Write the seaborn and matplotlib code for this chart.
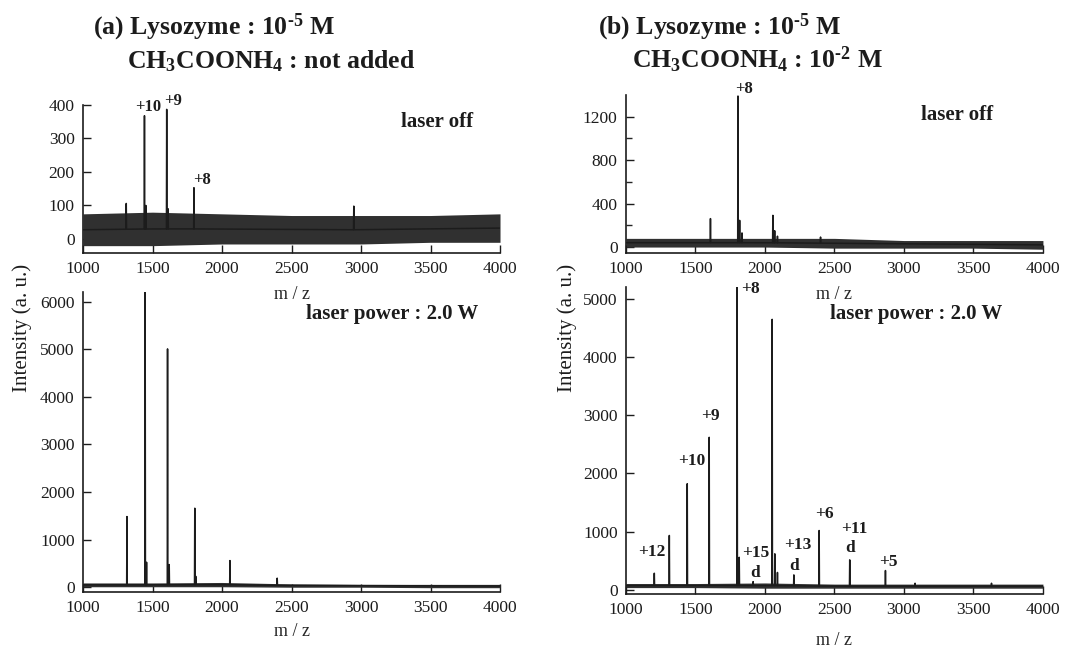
import numpy as np
import pandas as pd
import matplotlib
matplotlib.use('Agg')
import matplotlib.pyplot as plt
import seaborn as sns

sns.set_style('ticks')
plt.rcParams['font.family'] = ['Liberation Serif', 'DejaVu Serif']
plt.rcParams['mathtext.fontset'] = 'custom'
plt.rcParams['mathtext.rm'] = 'Liberation Serif:bold'
plt.rcParams['mathtext.it'] = 'Liberation Serif:bold'
plt.rcParams['mathtext.bf'] = 'Liberation Serif:bold'

noise_mz = [1000, 1500, 2000, 2500, 3000, 3500, 4000]

# (a) laser off
a_off_mz = [1311, 1442, 1452, 1602, 1612, 1798, 2948]
a_off_int = [106, 368, 100, 387, 90, 153, 98]
a_off_lo = [-20, -20, -15, -15, -15, -10, -10]
a_off_hi = [75, 80, 75, 70, 70, 70, 75]
a_off_lab = ['+10', '+9', '+8']
a_off_lab_mz = [1471, 1650, 1853]
a_off_lab_y = [393, 413, 176]

# (a) laser power 2.0 W
a_on_mz = [1316, 1447, 1457, 1608, 1620, 1804, 1811, 2057, 2397]
a_on_int = [1485, 6200, 525, 5007, 476, 1660, 230, 560, 190]
a_on_lo = [10, 10, 10, 0, 0, -10, -10]
a_on_hi = [90, 90, 100, 70, 60, 60, 60]

# (b) laser off
b_off_mz = [1608, 1806, 1818, 1835, 2057, 2070, 2090, 2400]
b_off_int = [262, 1391, 246, 130, 292, 150, 100, 92]
b_off_lo = [0, 0, 0, -10, -10, -10, -20]
b_off_hi = [80, 80, 80, 80, 60, 60, 60]
b_off_lab = ['+8']
b_off_lab_mz = [1847]
b_off_lab_y = [1452]

# (b) laser power 2.0 W
b_on_mz = [1204, 1312, 1441, 1599, 1800, 1815, 1915, 2052, 2071, 2090,
           2208, 2390, 2610, 2867, 3080, 3630]
b_on_int = [287, 935, 1823, 2620, 5250, 560, 143, 4645, 620, 300,
            258, 1020, 516, 333, 115, 115]
b_on_lo = [40, 40, 30, 30, 30, 30, 30]
b_on_hi = [110, 110, 120, 100, 100, 100, 100]
b_on_lab = ['+12', '+10', '+9', '+8', '+15', 'd', '+13', 'd', '+6', '+11', 'd', '+5']
b_on_lab_mz = [1185, 1472, 1609, 1899, 1935, 1927, 2239, 2208, 2426, 2646, 2610, 2886]
b_on_lab_y = [659, 2219, 2993, 5161, 631, 298, 774, 413, 1302, 1044, 717, 487]

ink = '#1c1c1c'


def spectrum(mz, inten, lo, hi):
    base = (np.array(lo) + np.array(hi)) / 2
    xs = [1000]
    ys = [base[0]]
    for m, h in sorted(zip(mz, inten)):
        b = np.interp(m, noise_mz, base)
        xs += [m - 2, m, m + 2]
        ys += [b, h, b]
    xs.append(4000)
    ys.append(base[-1])
    return pd.DataFrame({'mz': xs, 'intensity': ys})


def panel(ax, mz, inten, lo, hi, ylim, yticks, minor=None):
    ax.patch.set_alpha(0)
    ax.fill_between(noise_mz, lo, hi, color='#303030', lw=0)
    df = spectrum(mz, inten, lo, hi)
    sns.lineplot(data=df, x='mz', y='intensity', ax=ax, color=ink, lw=1.1,
                 estimator=None, sort=False)
    ax.set_xlim(1000, 4000)
    ax.set_ylim(*ylim)
    ax.set_xticks([1000, 1500, 2000, 2500, 3000, 3500, 4000])
    ax.set_yticks(yticks)
    ax.set_yticklabels([str(v) for v in yticks])
    if minor is not None:
        ax.set_yticks(minor, minor=True)
    ax.tick_params(direction='in', length=6, width=1, labelsize=12.5,
                   pad=6, colors=ink)
    ax.tick_params(which='minor', direction='in', length=4, width=1)
    for s in ['top', 'right']:
        ax.spines[s].set_visible(False)
    for s in ['left', 'bottom']:
        ax.spines[s].set_linewidth(1.2)
        ax.spines[s].set_color(ink)
    ax.set_ylabel('')


def labels(ax, texts, xs, ys, size=12):
    for t, x, y in zip(texts, xs, ys):
        ax.text(x, y, t, ha='center', va='center', fontsize=size,
                fontweight='bold', color=ink, clip_on=False)


fig = plt.figure(figsize=(10.7, 6.55), dpi=100)
ax1 = fig.add_axes([0.0776, 0.6137, 0.3897, 0.2260])
ax2 = fig.add_axes([0.0776, 0.0962, 0.3897, 0.4578])
ax3 = fig.add_axes([0.585, 0.6137, 0.3897, 0.2412])
ax4 = fig.add_axes([0.585, 0.0931, 0.3897, 0.4687])

panel(ax1, a_off_mz, a_off_int, a_off_lo, a_off_hi, (-42, 400),
      [0, 100, 200, 300, 400])
panel(ax2, a_on_mz, a_on_int, a_on_lo, a_on_hi, (-100, 6200),
      [0, 1000, 2000, 3000, 4000, 5000, 6000])
panel(ax3, b_off_mz, b_off_int, b_off_lo, b_off_hi, (-55, 1400),
      [0, 400, 800, 1200], minor=[200, 600, 1000])
panel(ax4, b_on_mz, b_on_int, b_on_lo, b_on_hi, (-70, 5200),
      [0, 1000, 2000, 3000, 4000, 5000])

labels(ax1, a_off_lab, a_off_lab_mz, a_off_lab_y)
labels(ax3, b_off_lab, b_off_lab_mz, b_off_lab_y)
labels(ax4, b_on_lab, b_on_lab_mz, b_on_lab_y, size=12.5)

ax1.set_xlabel('m / z', fontsize=13, labelpad=6)
ax2.set_xlabel('m / z', fontsize=13, labelpad=5)
ax3.set_xlabel('m / z', fontsize=13, labelpad=6)
ax4.set_xlabel('m / z', fontsize=13, labelpad=10)

ax1.text(0.849, 0.885, 'laser off', transform=ax1.transAxes, ha='center',
         va='center', fontsize=15, fontweight='bold', color=ink)
ax3.text(0.794, 0.873, 'laser off', transform=ax3.transAxes, ha='center',
         va='center', fontsize=15, fontweight='bold', color=ink)
ax2.text(0.741, 0.927, 'laser power : 2.0 W', transform=ax2.transAxes,
         ha='center', va='center', fontsize=15, fontweight='bold', color=ink)
ax4.text(0.695, 0.912, 'laser power : 2.0 W', transform=ax4.transAxes,
         ha='center', va='center', fontsize=15, fontweight='bold', color=ink)

fig.text(0.021, 0.499, 'Intensity (a. u.)', rotation=90, ha='center',
         va='center', fontsize=15, color=ink)
fig.text(0.530, 0.499, 'Intensity (a. u.)', rotation=90, ha='center',
         va='center', fontsize=15, color=ink)

fig.text(0.0869, 0.9466, r'(a) Lysozyme : 10$^{\text{-}5}$ M', fontsize=18.5,
         fontweight='bold', color=ink, va='baseline')
fig.text(0.1187, 0.896, 'CH$_3$COONH$_4$ : not added', fontsize=18.5,
         fontweight='bold', color=ink, va='baseline')
fig.text(0.5589, 0.9466, r'(b) Lysozyme : 10$^{\text{-}5}$ M', fontsize=18.5,
         fontweight='bold', color=ink, va='baseline')
fig.text(0.5907, 0.896, r'CH$_3$COONH$_4$ : 10$^{\text{-}2}$ M', fontsize=18.5,
         fontweight='bold', color=ink, va='baseline')

fig.savefig('out.png', dpi=100)
